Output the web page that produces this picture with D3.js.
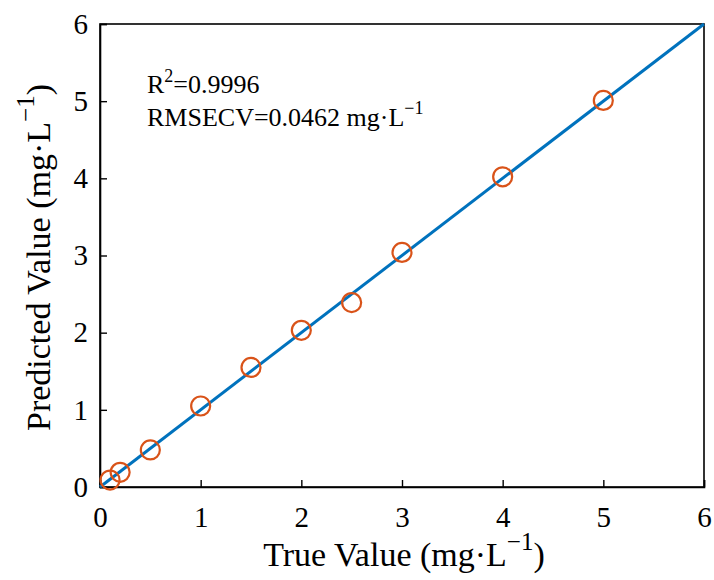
<!DOCTYPE html>
<html><head><meta charset="utf-8">
<script src="https://cdn.jsdelivr.net/npm/d3@7"></script>
<style>body{margin:0;background:#fff}text{font-family:"Liberation Serif","Times New Roman",serif;fill:#000}</style>
</head><body>
<svg id="c" width="714" height="580"></svg>
<script>
const trueVals = [0.1, 0.2, 0.5, 1, 1.5, 2, 2.5, 3, 4, 5];
const predVals = [0.09, 0.19, 0.48, 1.05, 1.55, 2.03, 2.39, 3.04, 4.02, 5.01];
const xTicks = [0, 1, 2, 3, 4, 5, 6];
const yTicks = [0, 1, 2, 3, 4, 5, 6];
const fitLine = [[0, 0], [6, 6]];

const svg = d3.select("#c");
const m = {l: 100, r: 10, t: 24, b: 93};
const W = 714, H = 580;
const x = d3.scaleLinear().domain([0, 6]).range([m.l, W - m.r]);
const y = d3.scaleLinear().domain([0, 6]).range([H - m.b, m.t]);

// frame
svg.append("rect").attr("x", x(0)).attr("y", y(6)).attr("width", x(6) - x(0)).attr("height", y(0) - y(6))
  .attr("fill", "none").attr("stroke", "#000").attr("stroke-width", 1.6);

const xa = svg.append("g").attr("transform", `translate(0,${y(0)})`)
  .call(d3.axisBottom(x).tickValues(xTicks).tickSize(-7).tickPadding(19).tickFormat(d3.format("d")));
const ya = svg.append("g").attr("transform", `translate(${x(0)},0)`)
  .call(d3.axisLeft(y).tickValues(yTicks).tickSize(-7).tickPadding(12).tickFormat(d3.format("d")));
[xa, ya].forEach(a => {
  a.attr("font-family", null);
  a.select(".domain").attr("stroke", "#000").attr("stroke-width", 1.6);
  a.selectAll(".tick line").attr("stroke", "#000").attr("stroke-width", 1.4);
  a.selectAll(".tick text").attr("font-size", 29);
});

// fit line
svg.append("path").datum(fitLine)
  .attr("d", d3.line().x(d => x(d[0])).y(d => y(d[1])))
  .attr("stroke", "#0072BD").attr("stroke-width", 3).attr("fill", "none");

// points
svg.selectAll("circle.p").data(trueVals.map((t, i) => [t, predVals[i]])).enter()
  .append("circle").attr("class", "p")
  .attr("cx", d => x(d[0])).attr("cy", d => y(d[1])).attr("r", 9.5)
  .attr("fill", "none").attr("stroke", "#D95319").attr("stroke-width", 2.2);

// annotations
const a1 = svg.append("text").attr("x", 147).attr("y", 93).attr("font-size", 26);
a1.append("tspan").text("R");
a1.append("tspan").attr("dy", -11).attr("font-size", 18).text("2");
a1.append("tspan").attr("dy", 11).text("=0.9996");
const a2 = svg.append("text").attr("x", 147).attr("y", 126).attr("font-size", 26);
a2.append("tspan").text("RMSECV=0.0462 mg·L");
a2.append("tspan").attr("dy", -12).attr("font-size", 18).text("−1");

// axis titles
const xt = svg.append("text").attr("x", (x(0) + x(6)) / 2 + 2).attr("y", 566).attr("text-anchor", "middle").attr("font-size", 34);
xt.append("tspan").text("True Value (mg·L");
xt.append("tspan").attr("dy", -16).attr("font-size", 25).text("−1");
xt.append("tspan").attr("dy", 16).text(")");

const yt = svg.append("text").attr("transform", `translate(50,${(y(0) + y(6)) / 2 + 2}) rotate(-90)`).attr("text-anchor", "middle").attr("font-size", 34);
yt.append("tspan").text("Predicted Value (mg·L");
yt.append("tspan").attr("dy", -16).attr("font-size", 25).text("−1");
yt.append("tspan").attr("dy", 16).text(")");
</script>
</body></html>
